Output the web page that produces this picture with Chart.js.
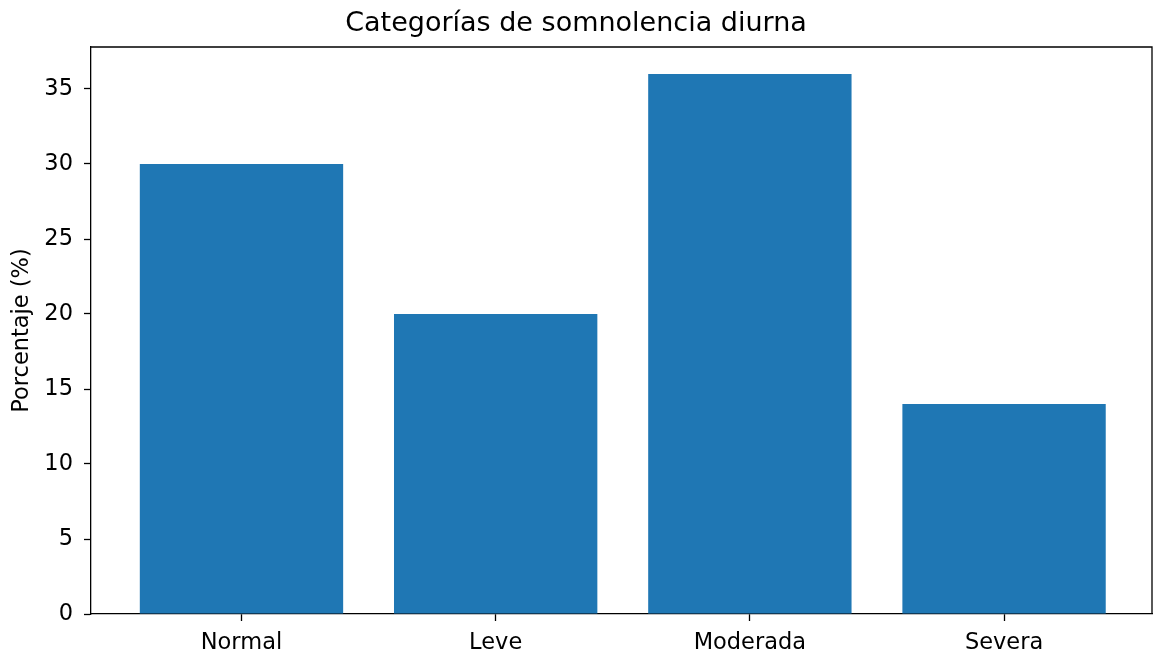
<!DOCTYPE html>
<html>
<head>
<meta charset="utf-8">
<script src="https://cdn.jsdelivr.net/npm/chart.js@4/dist/chart.umd.min.js"></script>
<style>
  body { margin: 0; background: #fff; }
  #chart { display: block; }
</style>
</head>
<body>
<canvas id="chart" width="1153" height="657"></canvas>
<script>
// Data
const categories = ['Normal', 'Leve', 'Moderada', 'Severa'];
const percentages = [30, 20, 36, 14];
const yTicks = [0, 5, 10, 15, 20, 25, 30, 35];

const FONT = 'DejaVu Sans';

// draws the top and right edges of the frame
const framePlugin = {
    id: 'frame',
    afterDraw(chart) {
        const { ctx, chartArea } = chart;
        ctx.save();
        ctx.strokeStyle = '#000';
        ctx.lineWidth = 1.3;
        ctx.beginPath();
        ctx.moveTo(chartArea.left, chartArea.top);
        ctx.lineTo(chartArea.right, chartArea.top);
        ctx.lineTo(chartArea.right, chartArea.bottom);
        ctx.stroke();
        ctx.restore();
    }
};

const ctx = document.getElementById('chart').getContext('2d');
new Chart(ctx, {
    type: 'bar',
    data: {
        datasets: [{
            data: percentages.map((v, i) => ({ x: i, y: v })),
            backgroundColor: '#1f77b4',
            borderWidth: 0,
            categoryPercentage: 1,
            barPercentage: 0.8
        }]
    },
    options: {
        responsive: false,
        animation: false,
        layout: { padding: { left: 0, right: 1, top: 0, bottom: 0 } },
        plugins: {
            legend: { display: false },
            tooltip: { enabled: false },
            title: {
                display: true,
                text: 'Categorías de somnolencia diurna',
                color: '#000',
                font: { family: FONT, size: 27, weight: 'normal', lineHeight: 1.2 },
                padding: { top: 7.8, bottom: 6.8 }
            }
        },
        scales: {
            x: {
                type: 'linear',
                min: -0.592,
                max: 3.582,
                offset: false,
                afterBuildTicks: scale => {
                    scale.ticks = categories.map((c, i) => ({ value: i }));
                },
                afterFit: scale => { scale.height = 43; },
                grid: {
                    offset: false,
                    drawOnChartArea: false,
                    color: '#000',
                    tickLength: 7,
                    tickWidth: 1.3
                },
                border: { color: '#000', width: 1.3 },
                ticks: {
                    color: '#000',
                    padding: 9,
                    maxRotation: 0,
                    font: { family: FONT, size: 22.5 },
                    callback: v => categories[v]
                }
            },
            y: {
                min: 0,
                max: 37.8,
                afterBuildTicks: scale => {
                    scale.ticks = yTicks.map(v => ({ value: v }));
                },
                afterFit: scale => { scale.width = 91; },
                grid: {
                    drawOnChartArea: false,
                    color: '#000',
                    tickLength: 7,
                    tickWidth: 1.3
                },
                border: { color: '#000', width: 1.3 },
                ticks: {
                    color: '#000',
                    padding: 11,
                    font: { family: FONT, size: 22.5 }
                },
                title: {
                    display: true,
                    text: 'Porcentaje (%)',
                    color: '#000',
                    font: { family: FONT, size: 22.5, lineHeight: 1.2 },
                    padding: { top: 8.5, bottom: 0 }
                }
            }
        }
    },
    plugins: [framePlugin]
});
</script>
</body>
</html>
